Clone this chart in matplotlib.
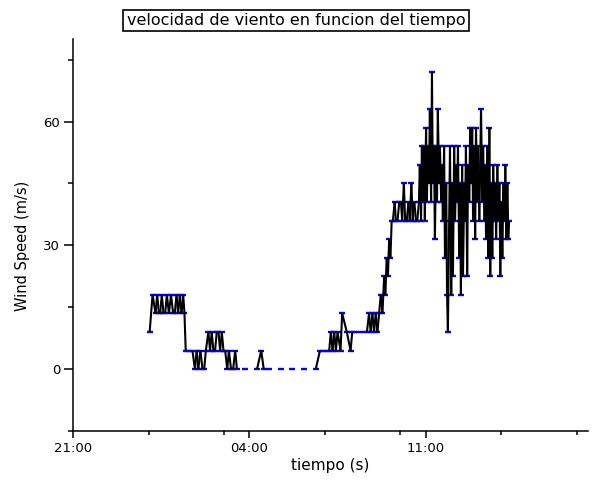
import datetime as dt

import matplotlib
matplotlib.use("Agg")
import matplotlib.pyplot as plt
import matplotlib.dates as mdates
from matplotlib.collections import LineCollection
import numpy as np

# start of the time axis
start = dt.datetime(2000, 1, 1, 21, 0)
end_hours = 20.45

# wind record: minutes after 21:00 and speed (m/s)
minutes = [
    182, 189, 196, 200, 204, 207, 211, 215, 219, 223, 228, 233, 238, 242, 246,
    250, 254, 258, 262, 265, 268, 276, 284, 290, 294, 298, 303, 308, 312, 316,
    322, 326, 330, 334, 338, 342, 346, 350, 354, 358, 362, 367, 371, 376, 381,
    386, 390, 410, 438, 448, 454, 466, 494, 522, 550, 578, 588, 596, 604, 610,
    614, 618, 622, 626, 630, 637, 641, 652, 661, 665, 669, 680, 693, 700, 705,
    709, 713, 717, 721, 725, 729, 733, 737, 741, 744, 747, 750, 753, 756, 759,
    762, 766, 769, 773, 777, 781, 784, 788, 791, 795, 799, 802, 806, 809, 813,
    817, 820,
    824, 826, 829, 831, 833, 836, 838, 841, 843, 845, 848, 850, 853, 855, 857,
    860, 862, 865, 867, 869, 872, 874, 877, 879, 881, 884, 886, 889, 891, 893,
    896, 898, 901, 903, 905, 908, 910, 913, 915, 917, 920, 922, 924, 927, 929,
    932, 934, 936, 939, 941, 944, 946, 948, 951, 953, 956, 958, 960, 963, 965,
    968, 970, 972, 975, 977, 980, 982, 984, 987, 989, 992, 994, 996, 999, 1001,
    1004, 1006, 1008, 1011, 1013, 1016, 1018, 1020, 1023, 1025, 1028, 1030,
    1032, 1035, 1037, 1039,
]
speed = [
    9, 18, 13.5, 18, 13.5, 13.5, 18, 13.5, 13.5, 18, 13.5, 18, 13.5, 13.5, 18,
    13.5, 18, 13.5, 18, 13.5, 4.5, 4.5, 4.5, 0, 4.5, 0, 4.5, 0, 0, 4.5,
    9, 4.5, 9, 4.5, 4.5, 9, 9, 4.5, 9, 4.5, 4.5, 0, 4.5, 0, 0,
    4.5, 0, 0, 0, 4.5, 0, 0, 0, 0, 0, 0, 4.5, 4.5, 4.5, 4.5,
    9, 4.5, 9, 4.5, 9, 4.5, 13.5, 9, 4.5, 9, 9, 9, 9, 9, 13.5,
    9, 13.5, 9, 13.5, 9, 13.5, 18, 13.5, 22.5, 18, 27, 22.5, 31.5, 27, 36,
    36, 40.5, 36, 36, 40.5, 40.5, 36, 45, 36, 36, 40.5, 36, 45, 36, 40.5,
    36, 36,
    40.5, 49.5, 36, 54, 40.5, 54, 36, 58.5, 40.5, 54, 45, 63, 40.5, 72, 45,
    54, 31.5, 54, 40.5, 63, 45, 54, 40.5, 49.5, 36, 54, 27, 45, 18, 9,
    36, 54, 18, 45, 22.5, 54, 36, 49.5, 40.5, 54, 27, 45, 18, 49.5, 22.5,
    45, 36, 54, 22.5, 49.5, 40.5, 58.5, 45, 58.5, 36, 54, 31.5, 58.5, 40.5, 54,
    36, 49.5, 63, 40.5, 54, 36, 49.5, 31.5, 54, 27, 58.5, 22.5, 45, 27, 49.5,
    36, 45, 31.5, 49.5, 36, 45, 22.5, 40.5, 27, 45, 36, 49.5,
    31.5, 45, 31.5, 36,
]

y_ticks = [0, 30, 60]
y_minor = [-15, 15, 45, 75]
major_hours = [21, 4, 11]
minor_hours = [0, 3, 7, 10, 14, 17]

title = "velocidad de viento en funcion del tiempo"

t = mdates.date2num([start + dt.timedelta(minutes=m) for m in minutes])
v = np.array(speed, dtype=float)

fig = plt.figure(figsize=(5.92, 4.92), dpi=100)
ax = fig.add_axes([73.3 / 592, 61 / 492, (588 - 73.3) / 592, (431 - 39) / 492])

# blue dash symbols, black line only where the value changes
ax.plot(t, v, ls="none", marker="_", ms=4.5, mew=1.7, color="#0000ff", zorder=2)
segs = [[(t[i], v[i]), (t[i + 1], v[i + 1])]
        for i in range(len(t) - 1) if v[i] != v[i + 1]]
ax.add_collection(LineCollection(segs, colors="black", linewidths=1.5, zorder=3))

ax.xaxis_date()
ax.set_xlim(start, start + dt.timedelta(hours=end_hours))
ax.set_ylim(-10, 80)

ax.xaxis.set_major_locator(mdates.HourLocator(byhour=major_hours))
ax.xaxis.set_minor_locator(mdates.HourLocator(byhour=minor_hours))
ax.xaxis.set_major_formatter(mdates.DateFormatter("%H:%M"))
ax.set_yticks(y_ticks)
ax.set_yticks(y_minor, minor=True)

for side in ["top", "right"]:
    ax.spines[side].set_visible(False)
for side in ["left", "bottom"]:
    ax.spines[side].set_linewidth(1.1)

ax.tick_params(axis="y", which="major", length=6.5, width=1.1, pad=3, labelsize=9.5)
ax.tick_params(axis="y", which="minor", length=3.5, width=1.1)
ax.tick_params(axis="x", which="major", length=5, width=1.1, pad=3, labelsize=9.5)
ax.tick_params(axis="x", which="minor", length=3, width=1.1)

ax.set_xlabel("tiempo (s)", fontsize=11)
ax.xaxis.set_label_coords(0.5, -0.07)
ax.set_ylabel("Wind Speed (m/s)", fontsize=10.5)
ax.yaxis.set_label_coords(-0.084, 0.472)

fig.text(0.5, 1 - 20.5 / 492, title, ha="center", va="center", fontsize=11.5,
         bbox=dict(boxstyle="square,pad=0.2", fc="white", ec="black", lw=1.2))

fig.savefig("out.png", dpi=100)
